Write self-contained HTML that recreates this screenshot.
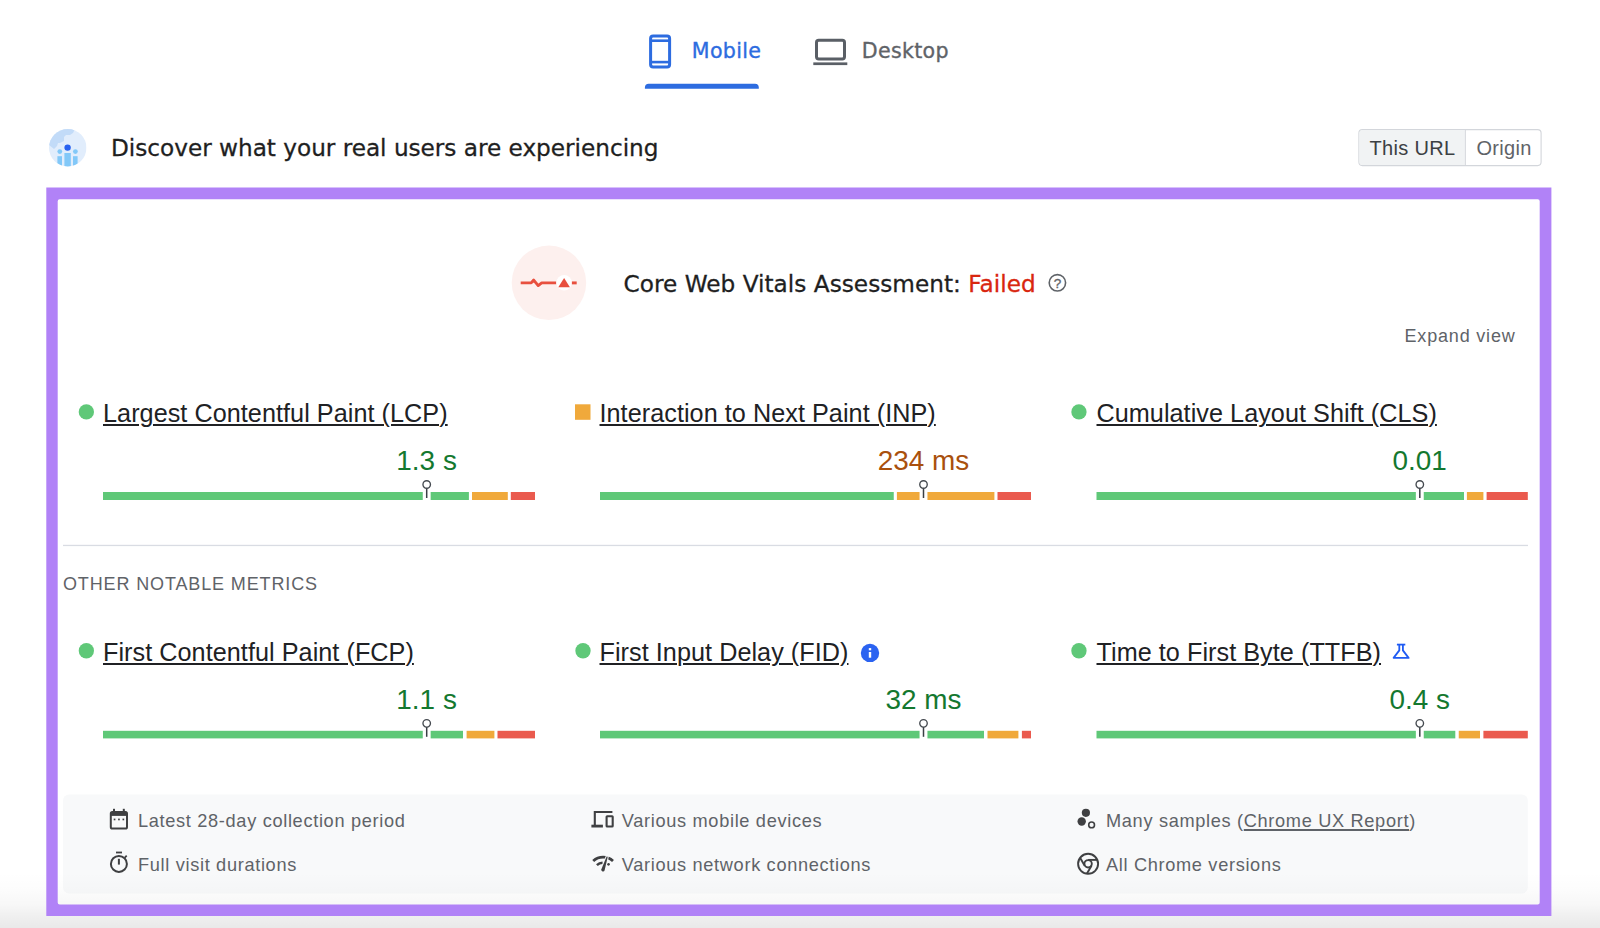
<!DOCTYPE html>
<html lang="en">
<head>
<meta charset="utf-8">
<title>PageSpeed Insights</title>
<style>
*{box-sizing:border-box;margin:0;padding:0}
html,body{width:1600px;height:928px;overflow:hidden;background:#fff}
body{position:relative;font-family:"Liberation Sans",Arial,sans-serif;color:#202124}
.abs{position:absolute;white-space:nowrap;line-height:1}
.gs{font-family:"DejaVu Sans","Liberation Sans",sans-serif}
svg{position:absolute;left:0;top:0;overflow:visible;pointer-events:none}
#tab-mobile{left:691.8px;top:41.1px;font-size:20.6px;letter-spacing:.32px;color:#2d6ce0;-webkit-text-stroke:.35px #2d6ce0}
#tab-desktop{left:861.8px;top:41.1px;font-size:20.6px;letter-spacing:.3px;color:#5f6368;-webkit-text-stroke:.35px #5f6368}
#hd{left:111px;top:136px;font-size:23.2px;color:#1f1f1f;letter-spacing:-.02px;-webkit-text-stroke:.3px #1f1f1f}
.sg{top:137.7px;font-size:20px;letter-spacing:.35px}
#cwv{left:623.5px;top:271.6px;font-size:23.2px;letter-spacing:.02px;color:#1f1f1f;-webkit-text-stroke:.3px}
#cwv b{font-weight:normal;color:#d9260f}
#expand{left:1404.5px;top:327px;font-size:18px;color:#5f6368;letter-spacing:.82px}
.mt{font-size:25.2px;letter-spacing:.055px;color:#202124;text-decoration:underline;text-decoration-thickness:2px;text-underline-offset:1.8px}
.val{font-size:27.9px;transform:translateX(-50%)}
.good{color:#14782f}
.avg{color:#a9500d}
#onm{left:63px;top:575px;font-size:18px;color:#5f6368;letter-spacing:.87px}
.ft{font-size:18.2px;color:#5f6368;letter-spacing:.67px}
.ft u{text-decoration-thickness:1.5px;text-underline-offset:2px}
#shade{position:absolute;left:0;top:872px;width:1600px;height:56px;background:linear-gradient(to bottom,rgba(0,0,0,0),rgba(0,0,0,.012) 32%,rgba(0,0,0,.032) 59%,rgba(0,0,0,.062) 80%,rgba(0,0,0,.088));pointer-events:none}
</style>
</head>
<body>
<svg id="shapes" width="1600" height="928" viewBox="0 0 1600 928">
<g transform="translate(649.1 34.4)"><rect x="1.5" y="1.5" width="19" height="31" rx="2.5" fill="none" stroke="#2d6ce0" stroke-width="3"/><rect x="1.5" y="5" width="19" height="2.6" fill="#2d6ce0"/><rect x="1.5" y="26.4" width="19" height="2.6" fill="#2d6ce0"/></g>
<path d="M644.9 88.8V87.6Q644.9 83.8 648.7 83.8H755Q758.8 83.8 758.8 87.6V88.8Z" fill="#2d6ce0"/>
<g transform="translate(813 38.8)"><rect x="3.5" y="1.5" width="28" height="18.7" rx="2.2" fill="none" stroke="#5a5f66" stroke-width="3"/><rect x="0.3" y="23.6" width="34" height="2.7" fill="#5a5f66"/></g>
<defs><clipPath id="cc"><circle cx="18.75" cy="18.75" r="18.75"/></clipPath></defs>
<g transform="translate(49 129)"><g clip-path="url(#cc)"><rect width="37.5" height="37.5" fill="#e1edfc"/><path d="M0 0H26L24 4L21 6H17L15 8V12L11 14H9L8 17L5 20L0 16Z" fill="#c2dbf8"/><circle cx="18.6" cy="18.6" r="3.2" fill="#2962f0"/><circle cx="10.8" cy="22.6" r="2.4" fill="#82c8f8"/><circle cx="26.4" cy="22.6" r="2.4" fill="#82c8f8"/><rect x="15.4" y="24" width="6.4" height="14" fill="#82c8f8"/><rect x="8.4" y="27.2" width="4.6" height="11" fill="#82c8f8"/><rect x="24" y="27.2" width="4.6" height="11" fill="#82c8f8"/></g></g>
<rect x="1358.9" y="129.6" width="182.2" height="36" rx="3.5" fill="#fff" stroke="#d3d6db" stroke-width="1.1"/>
<path d="M1362.4 130.1H1465.4V165.1H1362.4Q1359.4 165.1 1359.4 162.1V133.1Q1359.4 130.1 1362.4 130.1Z" fill="#f1f3f4"/>
<rect x="1464.9" y="130" width="1" height="35.2" fill="#d6d9dd"/>
<circle cx="548.95" cy="282.8" r="37.25" fill="#fdf0ee"/>
<g transform="translate(511.7 245.55)"><path d="M9 37.3H19.5L22 34.5L26.5 40L30 37.3H44.5" fill="none" stroke="#e8503f" stroke-width="2.9" stroke-linejoin="round"/><circle cx="52.4" cy="37.2" r="7.7" fill="#fff"/><path d="M52.4 32.5L58.2 41.7H46.6Z" fill="#e8503f"/><rect x="60.2" y="35.9" width="4.8" height="2.9" fill="#e8503f"/></g>
<g transform="translate(1047.4 272.8)"><circle cx="10" cy="10" r="8.2" fill="none" stroke="#5f6368" stroke-width="1.6"/><text x="10" y="14.8" text-anchor="middle" font-family="Liberation Sans, sans-serif" font-size="13.5" fill="#5f6368" stroke="#5f6368" stroke-width=".3">?</text></g>
<circle cx="86.35" cy="411.95" r="7.65" fill="#5fc878"/>
<rect x="103.00" y="492" width="319.75" height="8" fill="#5fc878"/>
<rect x="430.65" y="492" width="38.25" height="8" fill="#5fc878"/>
<rect x="472.00" y="492" width="35.80" height="8" fill="#f0a93b"/>
<rect x="510.80" y="492" width="24.20" height="8" fill="#ea5a4e"/>
<g transform="translate(420.70 478.60)"><path d="M6 9.5V19.4" stroke="#3a3f45" stroke-width="1.5"/><circle cx="6" cy="5.9" r="3.75" fill="#fff" stroke="#454a50" stroke-width="1.35"/></g>
<rect x="575.00" y="404.30" width="15.5" height="15.5" fill="#f0a93b"/>
<rect x="600.00" y="492" width="293.75" height="8" fill="#5fc878"/>
<rect x="896.90" y="492" width="22.65" height="8" fill="#f0a93b"/>
<rect x="927.45" y="492" width="66.95" height="8" fill="#f0a93b"/>
<rect x="997.50" y="492" width="33.50" height="8" fill="#ea5a4e"/>
<g transform="translate(917.50 478.60)"><path d="M6 9.5V19.4" stroke="#3a3f45" stroke-width="1.5"/><circle cx="6" cy="5.9" r="3.75" fill="#fff" stroke="#454a50" stroke-width="1.35"/></g>
<circle cx="1078.95" cy="411.95" r="7.65" fill="#5fc878"/>
<rect x="1096.50" y="492" width="319.35" height="8" fill="#5fc878"/>
<rect x="1423.75" y="492" width="40.25" height="8" fill="#5fc878"/>
<rect x="1466.90" y="492" width="16.50" height="8" fill="#f0a93b"/>
<rect x="1486.60" y="492" width="41.20" height="8" fill="#ea5a4e"/>
<g transform="translate(1413.80 478.60)"><path d="M6 9.5V19.4" stroke="#3a3f45" stroke-width="1.5"/><circle cx="6" cy="5.9" r="3.75" fill="#fff" stroke="#454a50" stroke-width="1.35"/></g>
<circle cx="86.35" cy="650.75" r="7.65" fill="#5fc878"/>
<rect x="103.00" y="730.8" width="319.75" height="7.6" fill="#5fc878"/>
<rect x="430.65" y="730.8" width="32.35" height="7.6" fill="#5fc878"/>
<rect x="466.60" y="730.8" width="27.80" height="7.6" fill="#f0a93b"/>
<rect x="497.50" y="730.8" width="37.50" height="7.6" fill="#ea5a4e"/>
<g transform="translate(420.70 717.40)"><path d="M6 9.5V19.4" stroke="#3a3f45" stroke-width="1.5"/><circle cx="6" cy="5.9" r="3.75" fill="#fff" stroke="#454a50" stroke-width="1.35"/></g>
<circle cx="583.00" cy="650.75" r="7.65" fill="#5fc878"/>
<rect x="600.00" y="730.8" width="319.55" height="7.6" fill="#5fc878"/>
<rect x="927.45" y="730.8" width="56.55" height="7.6" fill="#5fc878"/>
<rect x="987.50" y="730.8" width="30.90" height="7.6" fill="#f0a93b"/>
<rect x="1021.90" y="730.8" width="9.10" height="7.6" fill="#ea5a4e"/>
<g transform="translate(917.50 717.40)"><path d="M6 9.5V19.4" stroke="#3a3f45" stroke-width="1.5"/><circle cx="6" cy="5.9" r="3.75" fill="#fff" stroke="#454a50" stroke-width="1.35"/></g>
<circle cx="1078.95" cy="650.75" r="7.65" fill="#5fc878"/>
<rect x="1096.50" y="730.8" width="319.35" height="7.6" fill="#5fc878"/>
<rect x="1423.75" y="730.8" width="31.55" height="7.6" fill="#5fc878"/>
<rect x="1458.75" y="730.8" width="21.25" height="7.6" fill="#f0a93b"/>
<rect x="1483.40" y="730.8" width="44.40" height="7.6" fill="#ea5a4e"/>
<g transform="translate(1413.80 717.40)"><path d="M6 9.5V19.4" stroke="#3a3f45" stroke-width="1.5"/><circle cx="6" cy="5.9" r="3.75" fill="#fff" stroke="#454a50" stroke-width="1.35"/></g>
<g transform="translate(860.8 643.7)"><circle cx="9.2" cy="9.2" r="9.2" fill="#2b63f1"/><rect x="8" y="4.4" width="2.4" height="2.2" fill="#fff"/><rect x="8" y="8.3" width="2.4" height="5.7" fill="#fff"/></g>
<g fill="none" stroke="#1f5bf3" stroke-width="1.8" stroke-linejoin="round"><path d="M1396.9 644.6H1405.3"/><path d="M1399.3 644.6V650.4L1393.6 657.9H1408.6L1402.9 650.4V644.6"/></g>
<rect x="63" y="544.8" width="1465" height="1.3" fill="#d9dce3"/>
<rect x="63" y="794.6" width="1464.8" height="99" rx="6" fill="#f8f9fa"/>
<g transform="translate(109.8 808.8)"><rect x="1" y="3.1" width="16.2" height="16.6" rx="1.6" fill="none" stroke="#3f4042" stroke-width="2"/><rect x="1" y="3.1" width="16.2" height="4" fill="#3f4042"/><rect x="3.2" y="0" width="2" height="3.5" fill="#3f4042"/><rect x="13" y="0" width="2" height="3.5" fill="#3f4042"/><rect x="3.9" y="9.8" width="1.7" height="1.7" fill="#3f4042"/><rect x="8.3" y="9.8" width="1.7" height="1.7" fill="#3f4042"/><rect x="12.7" y="9.8" width="1.7" height="1.7" fill="#3f4042"/></g>
<g transform="translate(109.8 851.4)"><circle cx="9.1" cy="12.5" r="8" fill="none" stroke="#3f4042" stroke-width="2"/><rect x="6.2" y="0.2" width="6" height="1.8" fill="#3f4042"/><rect x="8.1" y="7.4" width="2" height="5.8" fill="#3f4042"/><path d="M15 6.2L16.9 4.3" stroke="#3f4042" stroke-width="1.8"/></g>
<g transform="translate(591 810.5)"><path d="M21.4 1.5H3.8V14.6" fill="none" stroke="#3f4042" stroke-width="2.1"/><rect x="0.4" y="14.2" width="11.5" height="2.8" fill="#3f4042"/><rect x="15.6" y="5.7" width="6.1" height="10.3" rx=".6" fill="none" stroke="#3f4042" stroke-width="2.1"/></g>
<g fill="none" stroke="#3f4042" stroke-width="2.8"><path d="M593.2 861A14.8 14.8 0 0 1 613 861"/><path d="M596.9 865.1A9.3 9.3 0 0 1 602.6 862.7" stroke-width="2.6"/></g><circle cx="608.5" cy="864.3" r="1.35" fill="#3f4042"/><path d="M606.63 856.42L607.77 856.78L604.62 870.32A1.7 1.7 0 0 1 601.38 869.28Z" fill="#3f4042" stroke="#f8f9fa" stroke-width="1.9" paint-order="stroke"/>
<g transform="translate(1076 808)"><circle cx="9.9" cy="4.8" r="4.1" fill="#3f4042"/><circle cx="5.7" cy="13.5" r="4.2" fill="#3f4042"/><circle cx="15.6" cy="16.9" r="2.9" fill="none" stroke="#3f4042" stroke-width="1.6"/></g>
<g transform="translate(1088.1 863.8)"><g fill="none" stroke="#3f4042" stroke-width="1.9"><circle r="10"/><circle r="3.7"/><path d="M0 -3.9H9.3"/><path d="M3.38 1.95L-1.27 10"/><path d="M-3.38 1.95L-8.03 -6.1"/></g></g>
</svg>
<div id="tab-mobile" class="abs gs">Mobile</div>
<div id="tab-desktop" class="abs gs">Desktop</div>
<div id="hd" class="abs gs">Discover what your real users are experiencing</div>
<div class="abs sg" style="left:1369.4px;color:#3c4043">This URL</div>
<div class="abs sg" style="left:1476.4px;color:#5f6368">Origin</div>
<div id="cwv" class="abs gs">Core Web Vitals Assessment: <b>Failed</b></div>
<div id="expand" class="abs">Expand view</div>
<div class="abs mt" id="mt0" style="left:103.0px;top:401.3px">Largest Contentful Paint (LCP)</div>
<div class="abs val good" id="v0" style="left:426.6px;top:446.9px">1.3 s</div>
<div class="abs mt" id="mt1" style="left:599.5px;top:401.3px">Interaction to Next Paint (INP)</div>
<div class="abs val avg" id="v1" style="left:923.4px;top:446.9px">234 ms</div>
<div class="abs mt" id="mt2" style="left:1096.5px;top:401.3px">Cumulative Layout Shift (CLS)</div>
<div class="abs val good" id="v2" style="left:1419.7px;top:446.9px">0.01</div>
<div class="abs mt" id="mt3" style="left:103.0px;top:640.1px">First Contentful Paint (FCP)</div>
<div class="abs val good" id="v3" style="left:426.6px;top:685.7px">1.1 s</div>
<div class="abs mt" id="mt4" style="left:599.5px;top:640.1px">First Input Delay (FID)</div>
<div class="abs val good" id="v4" style="left:923.4px;top:685.7px">32 ms</div>
<div class="abs mt" id="mt5" style="left:1096.5px;top:640.1px">Time to First Byte (TTFB)</div>
<div class="abs val good" id="v5" style="left:1419.7px;top:685.7px">0.4 s</div>
<div id="onm" class="abs">OTHER NOTABLE METRICS</div>
<div class="abs ft" id="f0" style="left:138px;top:812.4px">Latest 28-day collection period</div>
<div class="abs ft" id="f1" style="left:138px;top:855.8px">Full visit durations</div>
<div class="abs ft" id="f2" style="left:621.8px;top:812.4px">Various mobile devices</div>
<div class="abs ft" id="f3" style="left:621.8px;top:855.8px">Various network connections</div>
<div class="abs ft" id="f4" style="left:1106px;top:812.4px">Many samples (<u>Chrome UX Report</u>)</div>
<div class="abs ft" id="f5" style="left:1106px;top:855.8px">All Chrome versions</div>
<div id="shade"></div>
<svg id="frame" width="1600" height="928" viewBox="0 0 1600 928"><path fill="#b182f7" fill-rule="evenodd" d="M46.3 187.6H1551.4V915.9H46.3Z M59.7 199.2H1537.7Q1539.7 199.2 1539.7 201.2V902.4Q1539.7 904.4 1537.7 904.4H59.7Q57.7 904.4 57.7 902.4V201.2Q57.7 199.2 59.7 199.2Z"/></svg>
</body>
</html>
